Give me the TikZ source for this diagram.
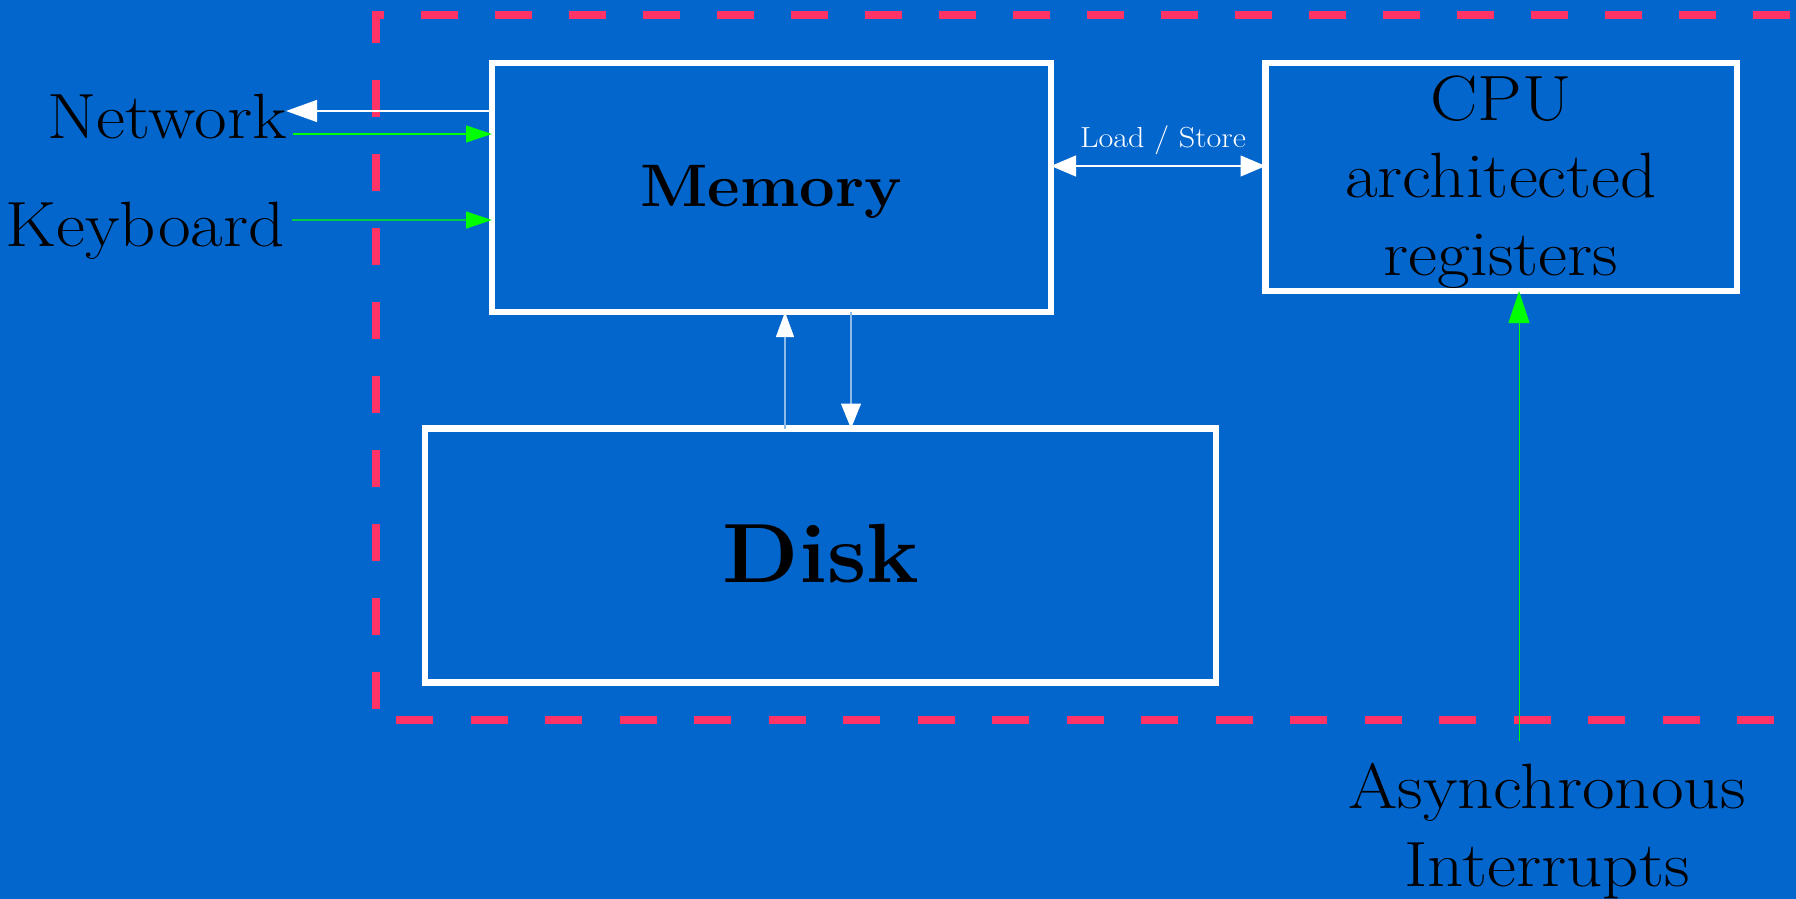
\documentclass[tikz,border=0pt]{standalone}
\usepackage{fontspec}
\newfontfamily\regfam{Latin Modern Roman}[FakeStretch=1.11]
\newfontfamily\boldfam{Latin Modern Roman}[FakeStretch=1.055]
\usetikzlibrary{arrows.meta}
\definecolor{bgblue}{RGB}{3,102,204}
\definecolor{dashred}{RGB}{255,51,102}
\definecolor{brightgreen}{RGB}{0,255,0}
\definecolor{kbgreen}{RGB}{0,204,68}
\begin{document}
\begin{tikzpicture}[x=1pt,y=-1pt,
  boxst/.style={draw=white,line width=6.5pt,inner sep=0pt,outer sep=0pt,rectangle},
  big/.style={text=black,inner sep=0pt,font=\regfam\fontsize{64}{77.5}\selectfont},
  thinw/.style={draw=white,line width=1.2pt},
  faint/.style={draw=white!55!bgblue,line width=1.2pt},
  thing/.style={draw=brightgreen,line width=1.1pt},
  frame/.style={draw=dashred,line width=7.5pt}]
\useasboundingbox (0,0) rectangle (1796,898);
\fill[bgblue] (-4,-4) rectangle (1800,902);
% dashed frame
\draw[frame,dash pattern=on 37pt off 37pt,dash phase=1pt] (384,15) -- (376,15) -- (376,720);
\draw[frame,dash pattern=on 37pt off 37pt,dash phase=37pt] (384,15) -- (1800,15);
\draw[frame,dash pattern=on 37pt off 37.5pt,dash phase=54.5pt] (376,720) -- (1800,720);
% boxes
\node[boxst,minimum width=559pt,minimum height=249pt] (mem) at (771.5,187.5) {};
\node[boxst,minimum width=791pt,minimum height=254pt] (disk) at (820.5,555.5) {};
\node[boxst,minimum width=471.5pt,minimum height=228pt] (cpu) at (1501.25,177) {};
% labels
\node[big,anchor=base,font=\boldfam\fontsize{60}{70}\selectfont\bfseries] (memlbl) at (771,206) {Memory};
\node[big,anchor=base,font=\boldfam\fontsize{84}{96}\selectfont\bfseries] (disklbl) at (821,582) {Disk};
\node[big,align=center] (cpulbl) at (1501,182) {CPU\\architected\\registers};
\node[big,anchor=base east] (netlbl) at (287,138) {Network};
\node[big,anchor=base east] (kbdlbl) at (285,246) {Keyboard};
\node[big,align=center] (intlbl) at (1547,831) {Asynchronous\\Interrupts};
\node[text=white,inner sep=0pt,anchor=base,font=\regfam\fontsize{29}{35}\selectfont] (lslbl) at (1163,147) {Load / Store};
% connector end points
\coordinate (netout) at (286,111);
\coordinate (netin) at (293,134);
\coordinate (kbdin) at (292,220);
\coordinate (ls) at (1160,166);
\coordinate (upx) at (785,0);
\coordinate (dnx) at (851,0);
\coordinate (intsrc) at (1519,741);
% connectors
\draw[thinw,-{Triangle[length=31pt,width=22pt]}] (mem.west |- netout) -- (netout);
\draw[thing,-{Triangle[length=26pt,width=17pt]}] (netin) -- (mem.west |- netin);
\draw[draw=kbgreen,line width=1.2pt,-{Triangle[length=26pt,width=17pt,color=brightgreen]}] (kbdin) -- (mem.west |- kbdin);
\draw[thinw,{Triangle[length=25pt,width=21pt]}-{Triangle[length=25pt,width=21pt]}] (mem.east |- ls) -- (cpu.west |- ls);
\draw[faint,-{Triangle[length=25pt,width=18pt,color=white]}] (disk.north -| upx) -- (mem.south -| upx);
\draw[faint,-{Triangle[length=25pt,width=20pt,color=white]}] (mem.south -| dnx) -- (disk.north -| dnx);
\draw[thing,line width=0.9pt,-{Triangle[length=32pt,width=21pt]}] (intsrc) -- (cpu.south -| intsrc);
\end{tikzpicture}
\end{document}
